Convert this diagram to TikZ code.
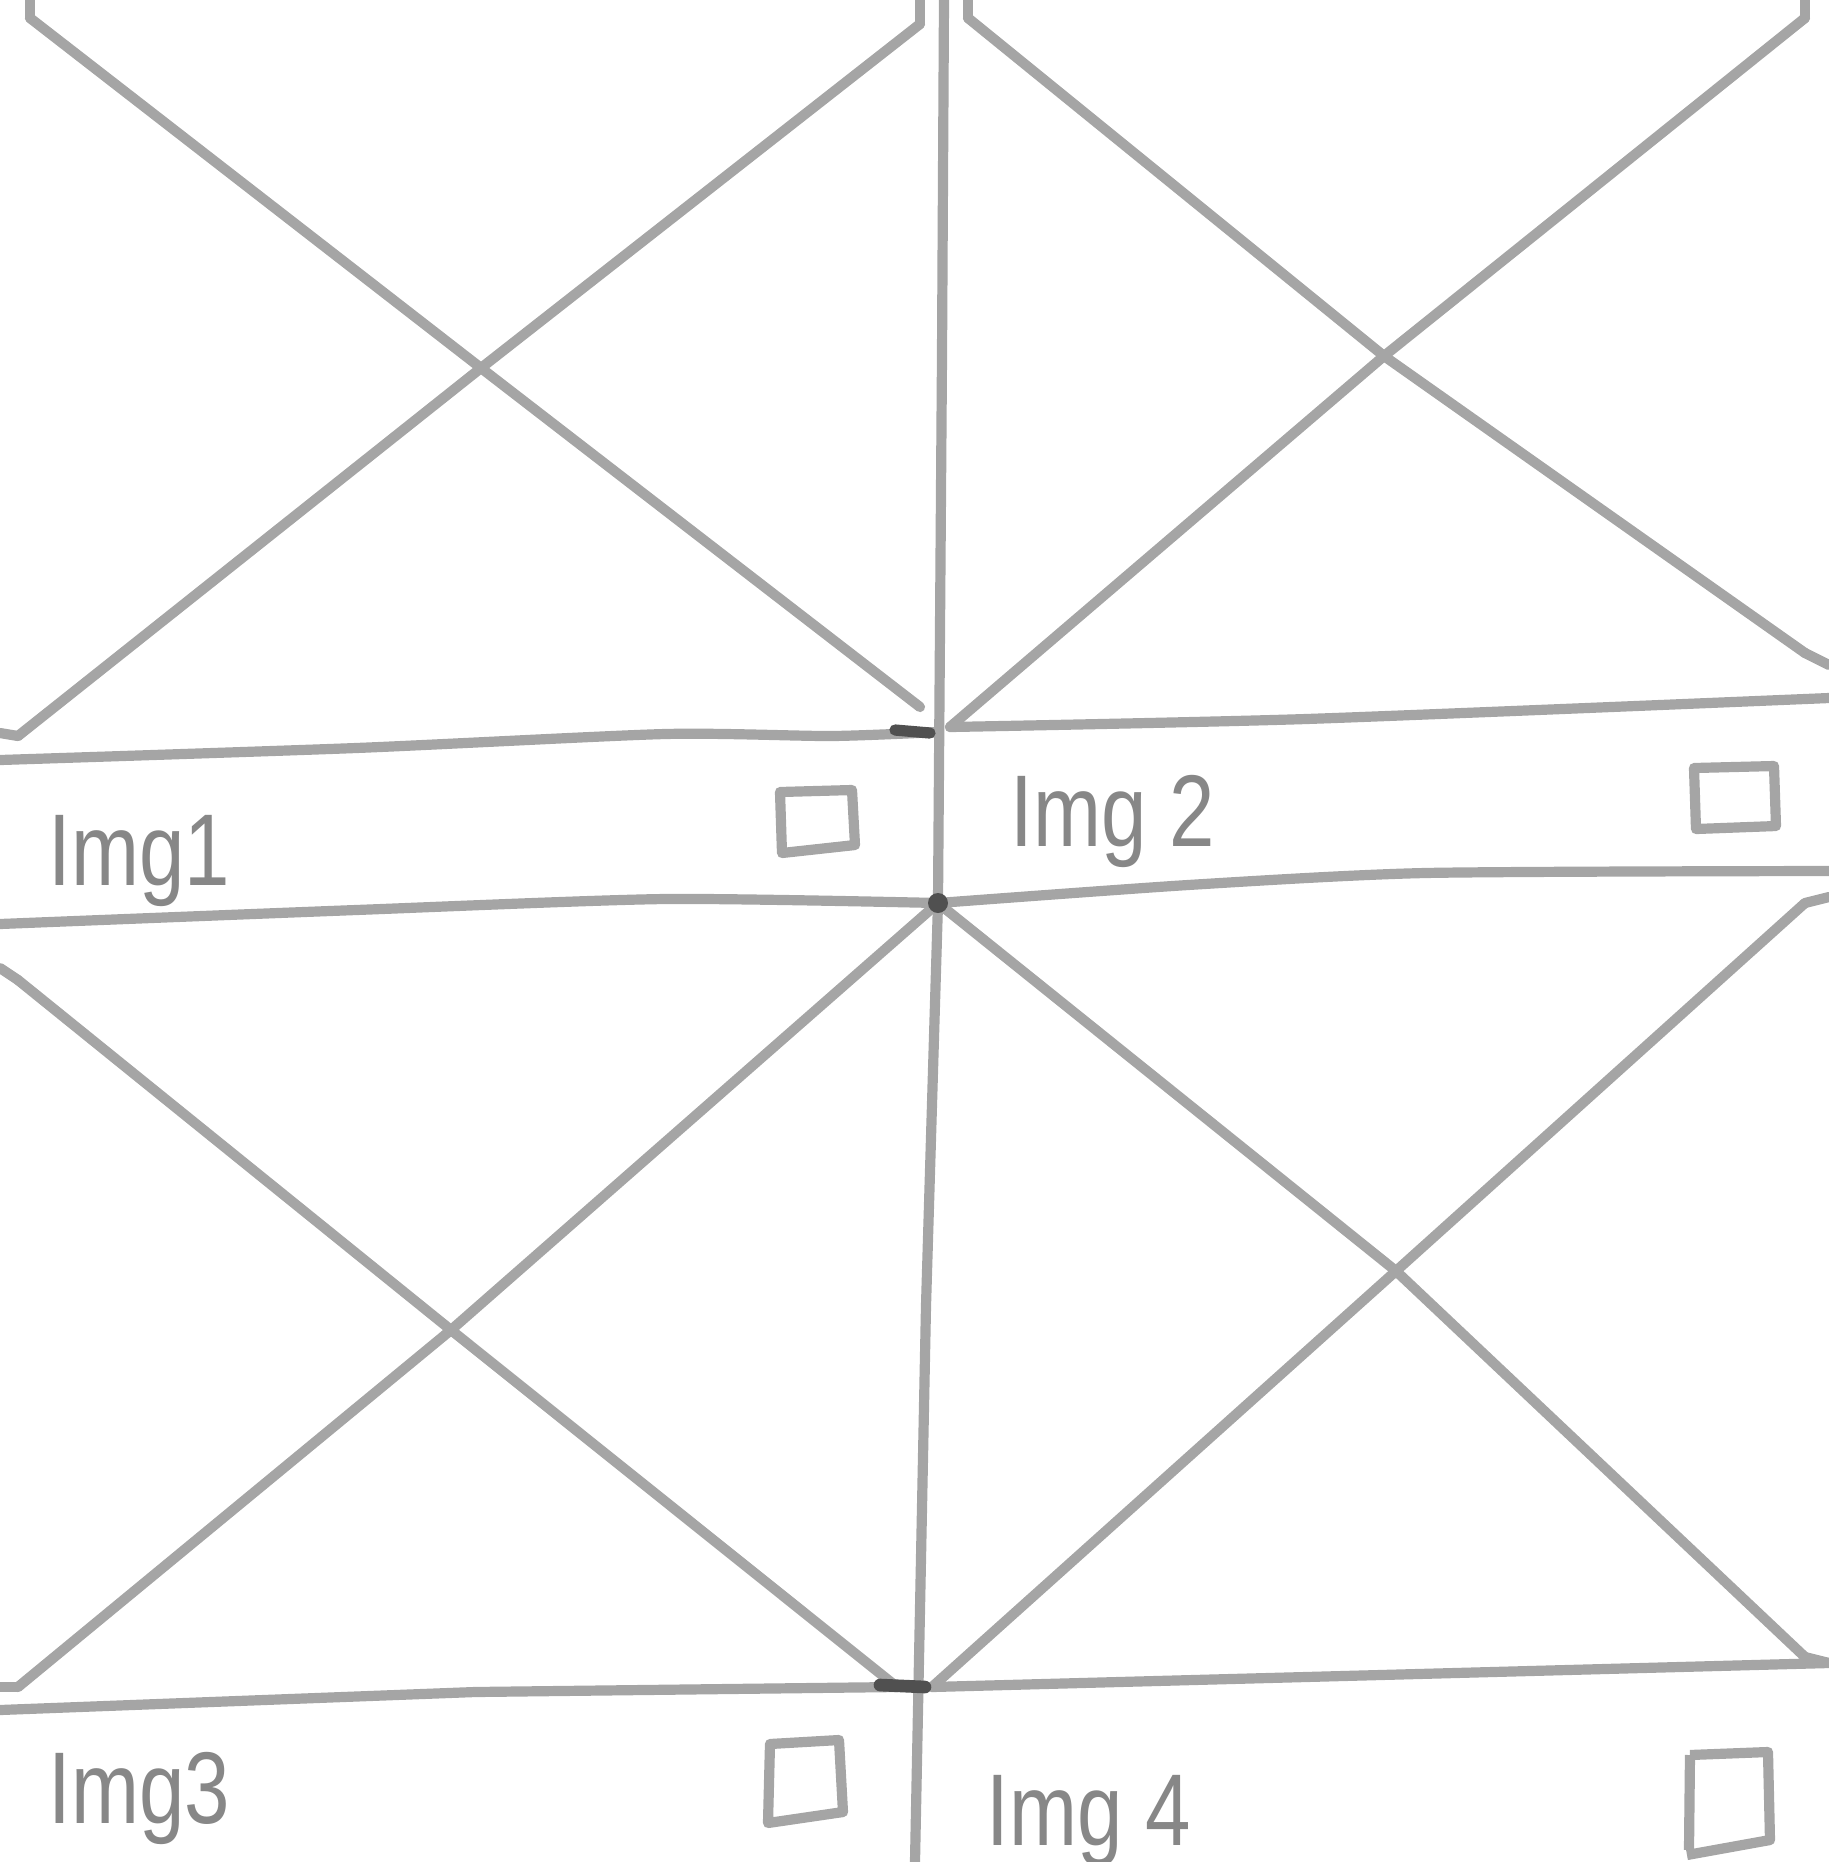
\documentclass[tikz,border=0pt]{standalone}
\usepackage{fontspec}
\setmainfont{Liberation Sans}
\definecolor{pen}{RGB}{165,165,165}
\definecolor{pendark}{RGB}{80,80,80}
\definecolor{ink}{RGB}{135,135,135}
\begin{document}
\begin{tikzpicture}[x=0.01cm,y=-0.01cm,
  sk/.style={draw=pen,line width=2.9pt,line cap=round,line join=round},
  lbl/.style={anchor=base west,inner sep=0pt,text=ink,font=\fontsize{29}{32}\selectfont},
  box/.style={draw=pen,line width=2.9pt,line join=round}]
\useasboundingbox (0,0) rectangle (1829,1862);
% named points
\coordinate (c1) at (938,903);
\coordinate (t1) at (481,368);
\coordinate (t2) at (1384,356);
\coordinate (b1) at (451,1330);
\coordinate (b2) at (1396,1271);
% centre vertical
\draw[sk] (944,0) -- (942,356) -- (c1) -- (926,1306) -- (915,1862);
% horizontal bars
\draw[sk] plot[smooth,tension=0.4] coordinates {(0,760) (356,748) (665,734) (831,736) (938,732)};
\draw[sk] plot[smooth,tension=0.4] coordinates {(950,727) (1306,719) (1829,698)};
\draw[sk] plot[smooth,tension=0.4] coordinates {(0,924) (356,910) (665,899) (c1)};
\draw[sk] plot[smooth,tension=0.4] coordinates {(c1) (1188,885) (1425,873) (1829,871)};
\draw[sk] (0,1710) -- (475,1692) -- (897,1687);
\draw[sk] (932,1687) -- (1829,1663);
% top-left X
\draw[sk] (30,18) -- (t1) -- (920,707);
\draw[sk] (18,736) -- (t1) -- (920,24);
% top-right X
\draw[sk] (968,18) -- (t2) -- (1805,653);
\draw[sk] (950,727) -- (t2) -- (1805,18);
% bottom-left X
\draw[sk] (18,980) -- (b1) -- (897,1687);
\draw[sk] (18,1687) -- (b1) -- (c1);
% bottom-right X
\draw[sk] (c1) -- (b2) -- (1805,1657);
\draw[sk] (932,1687) -- (b2) -- (1805,903);
% frame stubs at edges
\draw[sk] (0,733) -- (18,736);
\draw[sk] (0,968) -- (18,980);
\draw[sk] (0,1687) -- (18,1687);
\draw[sk] (30,0) -- (30,18);
\draw[sk] (920,0) -- (920,24);
\draw[sk] (968,0) -- (968,18);
\draw[sk] (1805,0) -- (1805,18);
\draw[sk] (1805,653) -- (1829,665);
\draw[sk] (1805,903) -- (1829,897);
\draw[sk] (1805,1657) -- (1829,1663);
% dark ink blobs
\fill[pendark] (c1) circle (10);
\draw[pendark,line width=3.2pt,line cap=round] (895,730) -- (930,733);
\draw[pendark,line width=3.6pt,line cap=round] (880,1685) -- (925,1687);
% labels
\node[lbl] (l1) at (48,885) {\scalebox{0.8}[1]{Img1}};
\node[lbl] (l2) at (1010,846) {\scalebox{0.8}[1]{Img 2}};
\node[lbl] (l3) at (48,1823) {\scalebox{0.8}[1]{Img3}};
\node[lbl] (l4) at (986,1845) {\scalebox{0.8}[1]{Img 4}};
% checkboxes
\draw[box] (780,792) -- (852,790) -- (855,845) -- (782,853) -- cycle;
\draw[box] (1694,768) -- (1774,766) -- (1776,826) -- (1696,829) -- cycle;
\draw[box] (770,1744) -- (839,1740) -- (843,1812) -- (768,1823) -- cycle;
\draw[box] (1690,1755) -- (1768,1752) -- (1770,1840) -- (1687,1855);
\draw[box] (1690,1755) -- (1689,1850);
\end{tikzpicture}
\end{document}
